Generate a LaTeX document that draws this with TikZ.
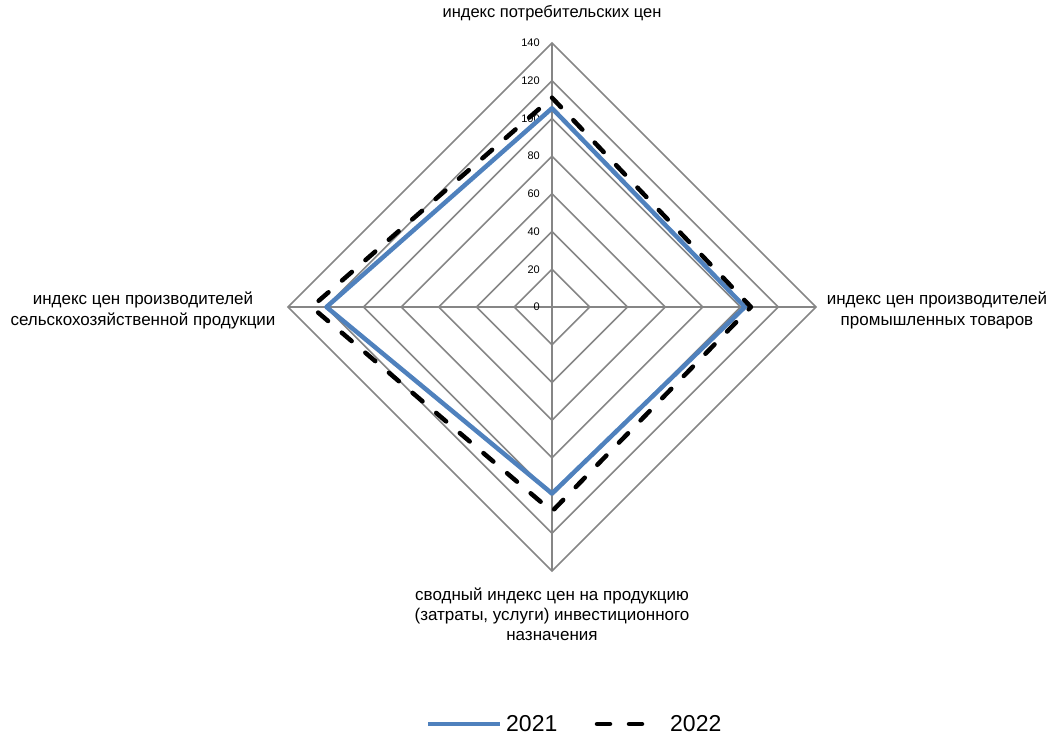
\documentclass[tikz,border=0pt]{standalone}
\usepackage{fontspec}
\setmainfont{Liberation Sans}
\usepackage{tikz}
\definecolor{gridgray}{RGB}{134,134,134}
\definecolor{blue2021}{RGB}{79,129,189}

\begin{document}
\begin{tikzpicture}[x=1pt,y=-1pt]
\useasboundingbox (0,0) rectangle (1050,735);
\begin{scope}[shift={(552,307)},x=1.8857pt,y=1.8857pt]
% rings and spokes
\foreach \r in {20,40,...,140}
  \draw[gridgray,line width=1.6pt] (0,\r) -- (\r,0) -- (0,-\r) -- (-\r,0) -- cycle;
\coordinate (o) at (0,0);
\coordinate (top) at (0,140);
\coordinate (rgt) at (140,0);
\coordinate (bot) at (0,-140);
\coordinate (lft) at (-140,0);
\draw[gridgray,line width=2.2pt] (top) -- (bot);
\draw[gridgray,line width=2.2pt] (lft) -- (rgt);
\foreach \r in {0,20,...,140}
  \node[anchor=east,inner sep=0pt,font=\fontsize{11}{13}\selectfont] at (-6.4,\r) {\r};
% data
\coordinate (a1) at (0,105.4);
\coordinate (b1) at (102.3,0);
\coordinate (c1) at (0,-98.9);
\coordinate (d1) at (-119.6,0);
\coordinate (a2) at (0,111);
\coordinate (b2) at (105.5,0);
\coordinate (c2) at (0,-108.4);
\coordinate (d2) at (-127.5,0);
\draw[blue2021,line width=4.5pt,line join=round] (a1) -- (b1) -- (c1) -- (d1) -- cycle;
\draw[black,line width=4.5pt,line cap=round,line join=round,dash pattern=on 13pt off 18pt] (a2) -- (b2) -- (c2) -- (d2) -- cycle;
\end{scope}
% category labels
\node[font=\fontsize{16.5}{21}\selectfont] (cpi) at (552,13) {индекс потребительских цен};
\node[font=\fontsize{17}{21}\selectfont,align=center] (ppi) at (937,310) {индекс цен производителей\\промышленных товаров};
\node[font=\fontsize{17}{21}\selectfont,align=center] (agr) at (143,310) {индекс цен производителей\\сельскохозяйственной продукции};
\node[font=\fontsize{17}{20}\selectfont,align=center] (inv) at (552,614) {сводный индекс цен на продукцию\\(затраты, услуги) инвестиционного\\назначения};
% legend
\coordinate (l1a) at (428,724);
\coordinate (l1b) at (500,724);
\coordinate (l2a) at (597,724);
\coordinate (l2b) at (650,724);
\draw[blue2021,line width=4.5pt] (l1a) -- (l1b);
\node[anchor=west,inner sep=0pt,font=\fontsize{23}{27}\selectfont] (y1) at (506,724) {2021};
\draw[black,line width=4.5pt,line cap=round,dash pattern=on 13pt off 19pt] (l2a) -- (l2b);
\node[anchor=west,inner sep=0pt,font=\fontsize{23}{27}\selectfont] (y2) at (670,724) {2022};
\end{tikzpicture}
\end{document}
